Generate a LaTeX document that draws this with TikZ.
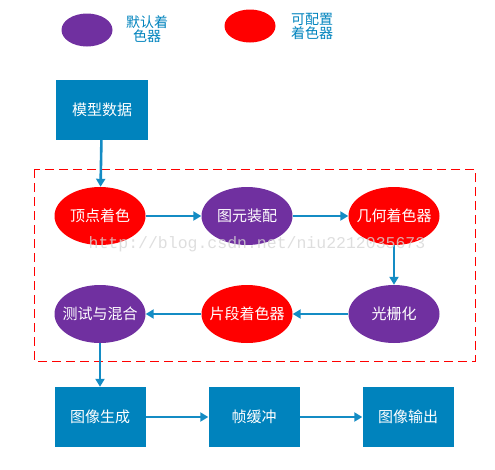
\documentclass[tikz,border=0pt]{standalone}
\usepackage{fontspec}
\setmainfont{Noto Sans CJK SC}
\newfontfamily\markfont{Liberation Mono}
\usetikzlibrary{arrows.meta,shapes.geometric}
\definecolor{boxblue}{RGB}{0,131,189}
\definecolor{arrowblue}{RGB}{20,140,196}
\definecolor{shaderpurple}{RGB}{112,48,160}
\definecolor{shaderred}{RGB}{255,0,0}
\begin{document}
\begin{tikzpicture}
[x=1pt,y=-1pt,
  fixedshader/.style={shape=ellipse,fill=shaderpurple,text=white,inner sep=0pt,
    minimum width=91pt,minimum height=58pt,font=\fontsize{15}{18}\selectfont},
  progshader/.style={fixedshader,fill=shaderred},
  stagebox/.style={shape=rectangle,fill=boxblue,text=white,inner sep=0pt,
    minimum width=91pt,minimum height=60pt,font=\fontsize{15}{18}\selectfont},
  legendtext/.style={text=boxblue,align=center,font=\fontsize{14}{14}\selectfont},
  flowline/.style={draw=arrowblue,line width=2.6pt,-{Triangle[length=8pt,width=9pt]}}]
\useasboundingbox (0,0) rectangle (495,469);
% legend
\node (fixedkey) at (87,30) [fixedshader,minimum width=51pt,minimum height=33pt] {};
\node (fixedtext) at (147,29) [legendtext] {默认着\\色器};
\node (progkey) at (250,26) [progshader,minimum width=51pt,minimum height=33pt] {};
\node (progtext) at (312,26) [legendtext] {可配置\\着色器};
% pipeline frame
\draw[shaderred,line width=0.8pt,dash pattern=on 9pt off 5pt] (34,169) rectangle (475,361);
% nodes
\node (model) at (102,110) [stagebox,minimum width=92pt] {模型数据};
\node (vertex) at (100,216) [progshader] {\makebox[0pt]{顶点着色}};
\node (prim) at (247,216) [fixedshader] {\makebox[0pt]{图元装配}};
\node (geom) at (394,216) [progshader] {\makebox[0pt]{几何着色器}};
\node (raster) at (394,314) [fixedshader] {\makebox[0pt]{光栅化}};
\node (frag) at (247,314) [progshader] {\makebox[0pt]{片段着色器}};
\node (blend) at (100,314) [fixedshader] {\makebox[0pt]{测试与混合}};
\node (image) at (100,417) [stagebox] {图像生成};
\node (frame) at (254,417) [stagebox] {帧缓冲};
\node (output) at (408,417) [stagebox] {图像输出};
% edges
\path
(model) edge[flowline] (vertex)
(vertex) edge[flowline] (prim)
(prim) edge[flowline] (geom)
(geom) edge[flowline] (raster)
(raster) edge[flowline] (frag)
(frag) edge[flowline] (blend)
(blend) edge[flowline] (image)
(image) edge[flowline] (frame)
(frame) edge[flowline] (output);
% watermark
\node (mark) at (257,244) [text=black!16,opacity=0.8,font=\markfont\fontsize{16.5}{16.5}\selectfont] {http://blog.csdn.net/niu2212035673};
\end{tikzpicture}
\end{document}
